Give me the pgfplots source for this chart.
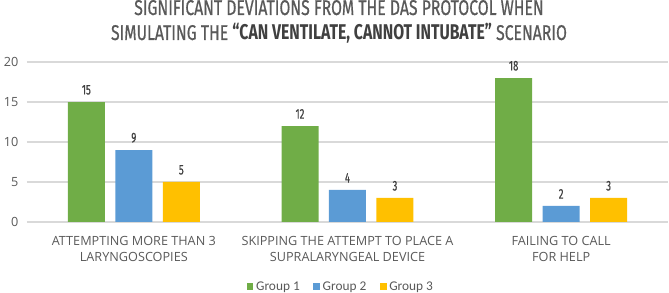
\documentclass[border=0pt]{standalone}
\usepackage{fontspec}
\setmainfont{Open Sans}
\newfontfamily\condfont[FakeStretch=0.74, FakeBold=0.6, BoldFeatures={FakeBold=0}]{Fira Sans}
\newfontfamily\numfont[FakeStretch=0.68, FakeBold=0.6]{Fira Sans}
\newfontfamily\legfont{Carlito}
\usepackage{pgfplots}
\pgfplotsset{compat=1.18}
\definecolor{gone}{HTML}{70AD47}
\definecolor{gtwo}{HTML}{5B9BD5}
\definecolor{gthree}{HTML}{FFC000}
\definecolor{txt}{HTML}{595959}
\definecolor{lbl}{HTML}{404040}
\definecolor{gridgray}{HTML}{D9D9D9}
\begin{document}
\begin{tikzpicture}
\path[use as bounding box] (-20.25pt,-53.25pt) rectangle (481.5pt,166.5pt);
\begin{axis}[
  scale only axis, width=480.75pt, height=120pt,
  xmin=-0.5, xmax=2.5, ymin=0, ymax=20,
  ytick={0,5,10,15,20},
  xtick={0,1,2},
  xticklabels={{ATTEMPTING MORE THAN 3\\LARYNGOSCOPIES},{SKIPPING THE ATTEMPT TO PLACE A\\SUPRALARYNGEAL DEVICE},{FAILING TO CALL\\FOR HELP}},
  xticklabel style={align=center, font=\fontsize{9.5}{12}\selectfont, text=txt, yshift=-3pt},
  yticklabel style={font=\fontsize{9.5}{10}\selectfont, text=txt, xshift=-3pt},
  /pgf/number format/assume math mode=true,
  ymajorgrids, xmajorgrids=false, grid style={draw=gridgray, line width=0.9pt},
  axis line style={draw=none}, tick style={draw=none},
  ybar, bar width=27.75pt,
  nodes near coords,
  every node near coord/.append style={font=\numfont\fontsize{10.5}{11}\selectfont, text=lbl, yshift=2pt},
  legend columns=3,
  legend style={at={(0.49,-0.406)}, anchor=center, draw=none, fill=none,
    font=\legfont\fontsize{10}{11}\selectfont, text=txt,
    /tikz/every even column/.append style={column sep=8pt}},
  legend image code/.code={\path[#1] (0pt,-2.6pt) rectangle (5.2pt,2.6pt);},
]
\addplot[fill=gone, draw=none, bar shift=-35.6pt] coordinates {(0,15) (1,12) (2,18)};
\addplot[fill=gtwo, draw=none, bar shift=0pt] coordinates {(0,9) (1,4) (2,2)};
\addplot[fill=gthree, draw=none, bar shift=35.6pt] coordinates {(0,5) (1,3) (2,3)};
\legend{Group 1, Group 2, Group 3}
\end{axis}
\node[anchor=base, text=txt, font=\condfont\fontsize{16}{17}\selectfont] at (234pt,155.25pt) {SIGNIFICANT DEVIATIONS FROM THE DAS PROTOCOL WHEN};
\node[anchor=base, text=txt, font=\condfont\fontsize{16}{17}\selectfont] at (234pt,136.5pt) {SIMULATING THE {\color{lbl}\bfseries “CAN VENTILATE, CANNOT INTUBATE”} SCENARIO};
\end{tikzpicture}
\end{document}
